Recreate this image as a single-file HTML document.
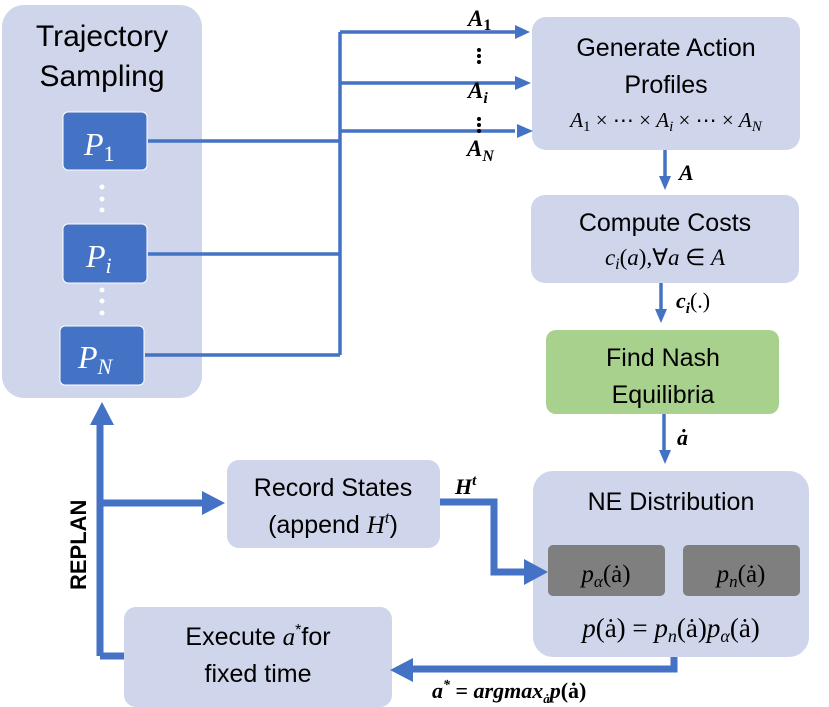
<!DOCTYPE html>
<html><head><meta charset="utf-8"><style>
html,body{margin:0;padding:0;background:#fff;}
svg{display:block}
text{font-family:"Liberation Sans",sans-serif;fill:#000}
.t{font-size:25px;text-anchor:middle}
.m{font-family:"Liberation Serif",serif;font-style:italic}
.b{font-family:"Liberation Serif",serif;font-style:italic;font-weight:bold}
</style></head><body>
<svg width="829" height="707" viewBox="0 0 829 707" xmlns="http://www.w3.org/2000/svg">
<!-- boxes -->
<rect x="2" y="5" width="200" height="393" rx="22" fill="#cfd5ea"/>
<text class="t" x="102" y="46" style="font-size:30px">Trajectory</text>
<text class="t" x="102" y="86" style="font-size:30px">Sampling</text>
<rect x="63" y="112" width="84" height="58" rx="5" fill="#4472c4" stroke="#fff" stroke-width="1"/>
<rect x="63" y="224" width="84" height="59" rx="5" fill="#4472c4" stroke="#fff" stroke-width="1"/>
<rect x="60" y="326" width="84" height="59" rx="5" fill="#4472c4" stroke="#fff" stroke-width="1"/>
<text x="84" y="155" class="m" style="font-size:32px;fill:#fff">P<tspan style="font-style:normal;font-size:22px" dy="6">1</tspan></text>
<text x="86" y="267" class="m" style="font-size:32px;fill:#fff">P<tspan style="font-size:22px" dy="6">i</tspan></text>
<text x="78" y="368" class="m" style="font-size:32px;fill:#fff">P<tspan style="font-size:22px" dy="6">N</tspan></text>
<g fill="#fff"><circle cx="102" cy="187" r="2.5"/><circle cx="102" cy="199" r="2.5"/><circle cx="102" cy="210" r="2.5"/>
<circle cx="102" cy="290" r="2.5"/><circle cx="102" cy="301" r="2.5"/><circle cx="102" cy="313" r="2.5"/></g>

<rect x="532" y="17" width="268" height="133" rx="14" fill="#cfd5ea"/>
<text class="t" x="666" y="56">Generate Action</text>
<text class="t" x="666" y="93">Profiles</text>
<text class="m" x="666" y="127" text-anchor="middle" style="font-size:21px">A<tspan style="font-style:normal;font-size:15px" dy="4">1</tspan><tspan dy="-4" style="font-style:normal"> × ⋯ × </tspan>A<tspan style="font-size:15px" dy="4">i</tspan><tspan dy="-4" style="font-style:normal"> × ⋯ × </tspan>A<tspan style="font-size:15px" dy="4">N</tspan></text>

<rect x="531" y="195" width="268" height="88" rx="14" fill="#cfd5ea"/>
<text class="t" x="665" y="231">Compute Costs</text>
<text class="m" x="665" y="265" text-anchor="middle" style="font-size:23px">c<tspan style="font-size:16px" dy="4">i</tspan><tspan dy="-4" style="font-style:normal">(</tspan>a<tspan style="font-style:normal">),∀</tspan>a<tspan style="font-style:normal"> ∈ </tspan>A</text>

<rect x="546" y="330" width="233" height="84" rx="10" fill="#a9d18e"/>
<text class="t" x="663" y="366">Find Nash</text>
<text class="t" x="663" y="403">Equilibria</text>

<rect x="533" y="471" width="276" height="186" rx="20" fill="#cfd5ea"/>
<text class="t" x="671" y="510">NE Distribution</text>
<rect x="548" y="545" width="117" height="51" rx="5" fill="#7f7f7f"/>
<rect x="683" y="545" width="117" height="51" rx="5" fill="#7f7f7f"/>
<text class="m" x="606" y="582" text-anchor="middle" style="font-size:25px">p<tspan style="font-size:17px" dy="5">α</tspan><tspan dy="-5" style="font-style:normal">(ȧ)</tspan></text>
<text class="m" x="741" y="582" text-anchor="middle" style="font-size:25px">p<tspan style="font-size:17px" dy="5">n</tspan><tspan dy="-5" style="font-style:normal">(ȧ)</tspan></text>
<text class="m" x="671" y="637" text-anchor="middle" style="font-size:27px">p<tspan style="font-style:normal">(ȧ) = </tspan>p<tspan style="font-size:18px" dy="5">n</tspan><tspan dy="-5" style="font-style:normal">(ȧ)</tspan>p<tspan style="font-size:18px" dy="5">α</tspan><tspan dy="-5" style="font-style:normal">(ȧ)</tspan></text>

<rect x="227" y="460" width="213" height="88" rx="12" fill="#cfd5ea"/>
<text class="t" x="333" y="496">Record States</text>
<text class="t" x="333" y="533">(append <tspan class="m" style="font-family:'Liberation Serif',serif">H</tspan><tspan class="m" style="font-family:'Liberation Serif',serif;font-size:17px" dy="-10">t</tspan><tspan dy="10">)</tspan></text>

<rect x="124" y="607" width="268" height="100" rx="12" fill="#cfd5ea"/>
<text class="t" x="258" y="645">Execute <tspan style="font-family:'Liberation Serif',serif;font-style:italic">a</tspan><tspan style="font-size:16px" dy="-10">*</tspan><tspan dy="10">for</tspan></text>
<text class="t" x="258" y="682">fixed time</text>

<!-- connectors -->
<g stroke="#4472c4" stroke-width="3.5" fill="none">
<path d="M148,141 H340 M148,254 H340 M145,355 H340 M340,355 V32 M340,32 H515 M340,83 H515 M340,131 H515"/>
<path d="M665,150 V178"/>
<path d="M661,283 V312"/>
<path d="M664,414 V453"/>
</g>
<g stroke="#4472c4" stroke-width="7" fill="none">
<path d="M440,502 H494 V572 H530"/>
<path d="M674,657 V669 H410"/>
<path d="M100,656 V415 M100,503 H208 M124,656 H100"/>
</g>
<g fill="#4472c4">
<path d="M530,32 L515,25 L515,39 Z"/>
<path d="M531,83 L515,76 L515,90 Z"/>
<path d="M533,131 L517,124 L517,138 Z"/>
<path d="M665,190 L659,176 L671,176 Z"/>
<path d="M661,323 L655,309 L667,309 Z"/>
<path d="M665,464 L659,450 L671,450 Z"/>
<path d="M548,572 L524,559 L524,585 Z"/>
<path d="M390,670 L413,658 L413,682 Z"/>
<path d="M102,402 L90,425 L114,425 Z"/>
<path d="M225,503 L202,491 L202,515 Z"/>
</g>

<!-- labels -->
<text class="b" x="468" y="26" style="font-size:23px">A<tspan style="font-style:normal;font-size:16px" dy="4">1</tspan></text>
<g fill="#000"><circle cx="479" cy="50" r="2"/><circle cx="479" cy="56" r="2"/><circle cx="479" cy="62" r="2"/>
<circle cx="479" cy="119" r="2"/><circle cx="479" cy="125" r="2"/><circle cx="479" cy="131" r="2"/></g>
<text class="b" x="468" y="98" style="font-size:23px">A<tspan style="font-size:16px" dy="5">i</tspan></text>
<text class="b" x="467" y="156" style="font-size:23px">A<tspan style="font-size:16px" dy="5">N</tspan></text>
<text class="b" x="679" y="180" style="font-size:22px">A</text>
<text class="b" x="676" y="308" style="font-size:22px">c<tspan style="font-size:15px" dy="5">i</tspan><tspan dy="-5" style="font-style:normal;font-weight:normal">(.)</tspan></text>
<text class="b" x="677" y="445" style="font-size:22px">ȧ</text>
<text class="b" x="455" y="494" style="font-size:22px">H<tspan style="font-size:15px" dy="-9">t</tspan></text>
<text class="b" x="432" y="698" style="font-size:22px">a<tspan style="font-size:14px" dy="-9">*</tspan><tspan dy="9" style="font-style:normal"> = </tspan>argmax<tspan style="font-size:13px" dy="5">ȧ</tspan><tspan dy="-5">p</tspan><tspan style="font-style:normal">(ȧ)</tspan></text>
<text x="0" y="0" transform="translate(86,590) rotate(-90)" style="font-size:22px;font-weight:bold">REPLAN</text>
</svg>
</body></html>
